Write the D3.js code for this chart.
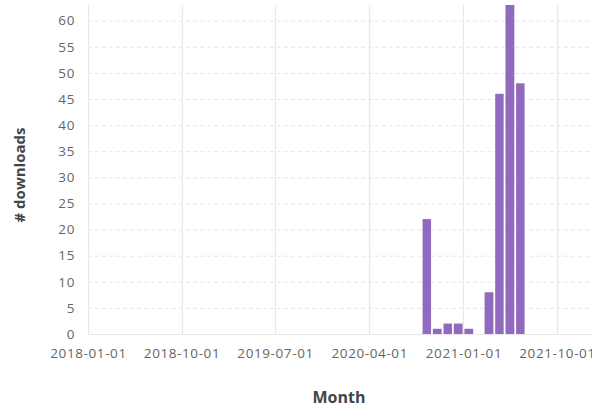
<!DOCTYPE html>
<html>
<head>
<meta charset="utf-8">
<script src="https://cdn.jsdelivr.net/npm/d3@7"></script>
<style>
  html, body { margin: 0; padding: 0; background: #fff; }
  svg { display: block; font-family: "Open Sans", "Noto Sans", sans-serif; }
</style>
</head>
<body>
<svg id="chart" width="592" height="409"></svg>
<script>
// Monthly download counts
const months = ["2020-09-01", "2020-10-01", "2020-11-01", "2020-12-01", "2021-01-01",
                "2021-02-01", "2021-03-01", "2021-04-01", "2021-05-01", "2021-06-01"];
const downloads = [22, 1, 2, 2, 1, 0, 8, 46, 63, 48];
const xTickLabels = ["2018-01-01", "2018-10-01", "2019-07-01", "2020-04-01", "2021-01-01", "2021-10-01"];
const yTickValues = [0, 5, 10, 15, 20, 25, 30, 35, 40, 45, 50, 55, 60];

const parse = d3.utcParse("%Y-%m-%d");
const svg = d3.select("#chart");
const margin = { left: 88, top: 5, bottom: 334 };

const x = d3.scaleUtc()
  .domain([parse("2018-01-01"), parse("2021-10-01")])
  .range([88, 557]);
const y = d3.scaleLinear().domain([0, 63]).range([334, 5]);

const plotRight = 592;

// horizontal dashed grid
svg.append("g").selectAll("line")
  .data(yTickValues.filter(v => v > 0))
  .join("line")
  .attr("x1", margin.left).attr("x2", plotRight)
  .attr("y1", d => y(d) + 0.5).attr("y2", d => y(d) + 0.5)
  .attr("stroke", "#e6e6e6").attr("stroke-width", 1)
  .attr("stroke-dasharray", "4,3");

// vertical grid at x ticks
const xTicks = xTickLabels.map(parse);
svg.append("g").selectAll("line")
  .data(xTicks)
  .join("line")
  .attr("x1", d => Math.round(x(d)) + 0.5).attr("x2", d => Math.round(x(d)) + 0.5)
  .attr("y1", 5).attr("y2", 334)
  .attr("stroke", "#e8e8e8").attr("stroke-width", 1.2);

// baseline
svg.append("line")
  .attr("x1", margin.left).attr("x2", plotRight)
  .attr("y1", y(0) + 0.5).attr("y2", y(0) + 0.5)
  .attr("stroke", "#e8e8e8");

// bars
const data = months.map((m, i) => ({ date: parse(m), value: downloads[i] }));
svg.append("g").selectAll("rect")
  .data(data.filter(d => d.value > 0))
  .join("rect")
  .attr("x", d => x(d.date) + 0.9)
  .attr("width", d => x(d3.utcMonth.offset(d.date, 1)) - x(d.date) - 1.8)
  .attr("y", d => y(d.value))
  .attr("height", d => y(0) - y(d.value))
  .attr("fill", "#9169be");

// x axis labels
const xAxis = d3.axisBottom(x)
  .tickValues(xTicks)
  .tickFormat(d3.utcFormat("%Y-%m-%d"))
  .tickSize(0).tickPadding(14);
const gx = svg.append("g").attr("transform", `translate(0,${y(0)})`).call(xAxis);
gx.select(".domain").remove();
gx.selectAll("text").attr("fill", "#666").attr("font-size", 13.5)
  .attr("letter-spacing", "0.6px")
  .attr("font-family", "\"Open Sans\", sans-serif");

// y axis labels
const yAxis = d3.axisLeft(y).tickValues(yTickValues).tickSize(0).tickPadding(13);
const gy = svg.append("g").attr("transform", `translate(${margin.left},0)`).call(yAxis);
gy.select(".domain").remove();
gy.selectAll("text").attr("fill", "#666").attr("font-size", 13.5)
  .attr("letter-spacing", "0.6px")
  .attr("font-family", "\"Open Sans\", sans-serif");

// axis titles
svg.append("text")
  .attr("x", 339).attr("y", 403)
  .attr("text-anchor", "middle")
  .attr("font-size", 16).attr("font-weight", "bold").attr("fill", "#444")
  .text("Month");

svg.append("text")
  .attr("transform", "translate(25,175) rotate(-90)")
  .attr("text-anchor", "middle")
  .attr("font-size", 15).attr("font-weight", "bold").attr("fill", "#444")
  .text("# downloads");
</script>
</body>
</html>
